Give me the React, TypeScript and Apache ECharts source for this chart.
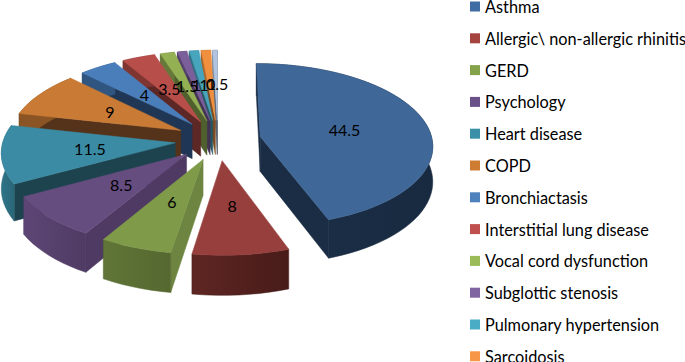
import React, { useEffect, useRef } from "react";
import * as echarts from "echarts";

const categories = [
  "Asthma",
  "Allergic\\ non-allergic rhinitis",
  "GERD",
  "Psychology",
  "Heart disease",
  "COPD",
  "Bronchiactasis",
  "Interstitial lung disease",
  "Vocal cord dysfunction",
  "Subglottic stenosis",
  "Pulmonary hypertension",
  "Sarcoidosis",
  "Other",
];
const values = [44.5, 8, 6, 8.5, 11.5, 9, 4, 3.5, 1.5, 1, 1, 1, 0.5];

const topColors = ["#3f6797", "#963f3c", "#7f9a48", "#664d80", "#3a8ba3", "#c97a35", "#4a7ebb", "#b84e4a", "#93b053", "#7a5f9a", "#46a4bd", "#f0903f", "#b0c4e0"];
const rimLight = ["#1b3049", "#5e2623", "#607537", "#5d4675", "#2f7488", "#8a5424", "#2f5580", "#7f3532", "#66793a", "#54406a", "#2f6f80", "#a8652c", "#7c8a9e"];
const rimDark = ["#182a40", "#48 1b19".replace(" ", ""), "#556830", "#4f3b64", "#2a6778", "#8a5424", "#2f5580", "#7f3532", "#66793a", "#54406a", "#2f6f80", "#a8652c", "#7c8a9e"];
const cutColors = ["#1a2d45", "#54221f", "#6d8540", "#4e3a63", "#1d434e", "#55331a", "#1f3655", "#5c2725", "#4f602e", "#423355", "#265663", "#7d4b22", "#5a6473"];
const legendColors = ["#3f6ca3", "#a5433f", "#84a24a", "#6a5089", "#3b90a8", "#cf7c33", "#4f81bd", "#c0504d", "#9bbb59", "#8064a2", "#4bacc6", "#f79646"];

const CX = 218;
const CY = 140;
const R = 172;
const K = 0.47;
const PERSP = 0.1;
const EXPLODE = 0.25;
const DEPTH = 35;
const ARC_STEP = 3;

const total = values.reduce((a, b) => a + b, 0);
const spans: [number, number][] = [];
{
  let acc = 0;
  for (const v of values) {
    spans.push([(acc / total) * 360, ((acc + v) / total) * 360]);
    acc += v;
  }
}
const rad = (d: number) => (d * Math.PI) / 180;
const midOf = (i: number) => (spans[i][0] + spans[i][1]) / 2;

function project(wx: number, wz: number, drop = 0): [number, number] {
  const w = 1 / (1 + PERSP * wz);
  return [CX + R * wx * w, CY - R * K * wz * w + drop * w];
}
function slicePoint(i: number, r: number, deg: number, drop = 0) {
  const m = rad(midOf(i));
  const wx = EXPLODE * Math.sin(m) + r * Math.sin(rad(deg));
  const wz = EXPLODE * Math.cos(m) + r * Math.cos(rad(deg));
  return project(wx, wz, drop);
}
function arcDegrees(a: number, b: number) {
  const out: number[] = [];
  for (let d = a; d < b; d += ARC_STEP) out.push(d);
  out.push(b);
  return out;
}
function renderSlice(i: number) {
  const [a, b] = spans[i];
  const poly = (points: number[][], fill: any, stroke?: string) => ({
    type: "polygon",
    shape: { points },
    style: { fill, stroke: stroke ?? fill, lineWidth: 0.5 },
  });
  const apexT = slicePoint(i, 0, 0);
  const apexB = slicePoint(i, 0, 0, DEPTH);
  const children: any[] = [];
  const startT = slicePoint(i, 1, a);
  const endT = slicePoint(i, 1, b);
  if (startT[0] < apexT[0]) {
    children.push(poly([apexT, startT, slicePoint(i, 1, a, DEPTH), apexB], cutColors[i]));
  }
  if (endT[0] > apexT[0]) {
    children.push(poly([apexT, endT, slicePoint(i, 1, b, DEPTH), apexB], cutColors[i]));
  }
  const degs = arcDegrees(a, b);
  const topArc = degs.map((d) => slicePoint(i, 1, d));
  const lowArc = degs.map((d) => slicePoint(i, 1, d, DEPTH)).reverse();
  const rimFill = new echarts.graphic.LinearGradient(0, 0, 1, 0, [
    { offset: 0, color: rimLight[i] },
    { offset: 1, color: rimDark[i] },
  ]);
  children.push(poly([...topArc, ...lowArc], rimFill, rimDark[i]));
  children.push(poly([apexT, ...topArc], topColors[i]));
  return { type: "group", children };
}

export default function App() {
  const ref = useRef<HTMLDivElement>(null);
  useEffect(() => {
    document.body.style.margin = "0";
    document.body.style.overflow = "hidden";
    const chart = echarts.init(ref.current!, undefined, { renderer: "svg" });
    const order = categories
      .map((_, i) => i)
      .sort((p, q) => Math.cos(rad(midOf(q))) - Math.cos(rad(midOf(p))));
    const sliceSeries = categories.map((name, i) => ({
      type: "custom",
      name,
      coordinateSystem: "none",
      z: 2 + order.indexOf(i),
      itemStyle: { color: legendColors[i] ?? topColors[i] },
      silent: true,
      data: [values[i]],
      renderItem: () => renderSlice(i),
    }));
    const labelSeries = {
      type: "custom",
      name: "labels",
      coordinateSystem: "none",
      z: 40,
      silent: true,
      data: values.map((v) => [v]),
      renderItem: (params: any, api: any) => {
        const i = params.dataIndex;
        const [x, y] = slicePoint(i, 0.5, midOf(i));
        return {
          type: "text",
          style: {
            x: x + 1,
            y,
            text: String(api.value(0)),
            textAlign: "center",
            textVerticalAlign: "middle",
            fontFamily: "Lato",
            fontSize: 16,
            fill: "#000000",
          },
        };
      },
    };
    chart.setOption({
      animation: false,
      backgroundColor: "#ffffff",
      legend: {
        data: categories.slice(0, 12),
        orient: "vertical",
        left: 470,
        top: -2,
        height: 420,
        padding: 0,
        itemWidth: 10,
        itemHeight: 10,
        itemGap: 14.8,
        icon: "rect",
        selectedMode: false,
        textStyle: { fontFamily: "Lato", fontSize: 16.3, lineHeight: 17, color: "#000000" },
      },
      series: [...sliceSeries, labelSeries],
    });
    return () => chart.dispose();
  }, []);
  return <div ref={ref} style={{ position: "absolute", left: 0, top: 0, width: 685, height: 362 }} />;
}
